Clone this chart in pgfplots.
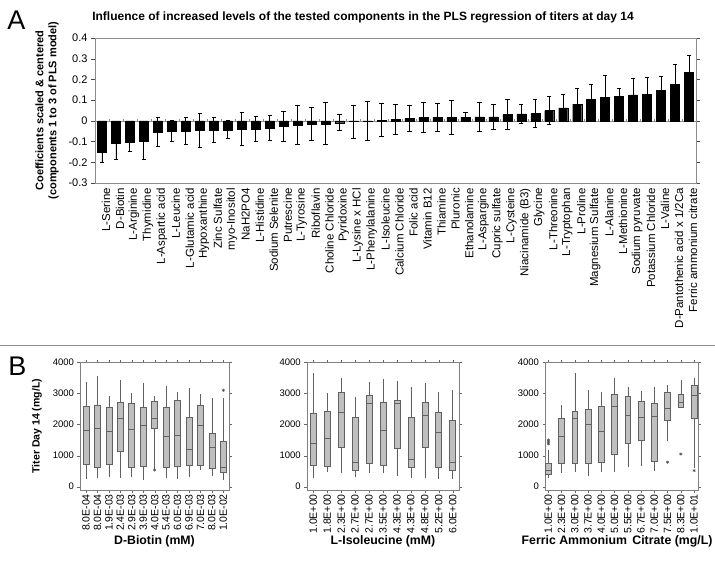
\documentclass[border=0pt]{standalone}
\usepackage{fontspec}
\setmainfont{Liberation Sans}
\usepackage{pgfplots}
\usepackage{pgfplotstable}
\pgfplotsset{compat=1.18}
\usepgfplotslibrary{statistics}

\pgfplotstableread{
x y e
0 -0.150 0.050
1 -0.106 0.080
2 -0.104 0.044
3 -0.098 0.088
4 -0.053 0.069
5 -0.049 0.052
6 -0.049 0.064
7 -0.046 0.080
8 -0.043 0.060
9 -0.043 0.043
10 -0.039 0.078
11 -0.039 0.062
12 -0.034 0.061
13 -0.027 0.071
14 -0.021 0.094
15 -0.015 0.080
16 -0.014 0.101
17 -0.009 0.039
18 -0.004 0.080
19 -0.002 0.094
20 0.004 0.078
21 0.008 0.072
22 0.011 0.063
23 0.016 0.071
24 0.016 0.068
25 0.016 0.081
26 0.018 0.021
27 0.019 0.068
28 0.019 0.060
29 0.030 0.072
30 0.034 0.045
31 0.035 0.067
32 0.050 0.069
33 0.063 0.064
34 0.081 0.077
35 0.105 0.069
36 0.114 0.105
37 0.118 0.039
38 0.126 0.080
39 0.129 0.081
40 0.148 0.065
41 0.177 0.095
42 0.234 0.081
}\coefdata

\pgfplotsset{
  bx/.style={draw=black!62, fill=black!25, line width=0.6pt},
  outl/.style={only marks, mark=asterisk, mark size=1.6pt, mark options={black!70, line width=0.5pt}},
  bpanel/.style={
    anchor=north west, scale only axis, height=127.7pt,
    boxplot/draw direction=y,
    ymin=-106, ymax=4000, ytick={0,1000,2000,3000,4000},
    /pgf/number format/1000 sep={}, /pgf/number format/assume math mode=true,
    axis line style={black!50}, tick style={black!60}, tick align=outside,
    major tick length=2.5pt, clip=false,
    x tick label style={rotate=90, anchor=east, font=\fontsize{10.5}{10.5}\selectfont, inner sep=1.5pt},
    y tick label style={font=\fontsize{9.5}{10}\selectfont},
    xlabel style={font=\bfseries\fontsize{12.3}{13}\selectfont, anchor=center},
  },
}
\newcommand{\bp}[6]{\addplot[bx, boxplot prepared={draw position=#1, lower whisker=#2, lower quartile=#3, median=#4, upper quartile=#5, upper whisker=#6, whisker extend=0}] coordinates {};}

\begin{document}
\begin{tikzpicture}
\useasboundingbox (0pt,0pt) rectangle (715pt,-560pt);

\node[font=\fontsize{27}{27}\selectfont] at (16.5pt,-20pt) {A};
\node[font=\fontsize{27}{27}\selectfont] at (17.5pt,-366pt) {B};
\node[font=\bfseries\fontsize{12}{13}\selectfont] at (363pt,-17pt) {Influence of increased levels of the tested components in the PLS regression of titers at day 14};
\draw[black!45, line width=0.8pt] (0pt,-345pt) -- (715pt,-345pt);

% zero line with category ticks
\begin{axis}[at={(95pt,-38pt)}, anchor=north west, scale only axis, width=601pt, height=145pt,
  xmin=-0.5, xmax=42.5, ymin=-0.3, ymax=0.4, axis y line=none, axis x line=middle,
  axis line style={black!45, -}, xtick={-0.5,0.5,...,42.5}, xticklabels={}, ytick=\empty,
  tick style={black!45}, major tick length=3pt]
\end{axis}

\begin{axis}[at={(95pt,-38pt)}, anchor=north west, scale only axis, width=601pt, height=145pt,
  xmin=-0.5, xmax=42.5, ymin=-0.3, ymax=0.4,
  ytick={-0.3,-0.2,-0.1,0,0.1,0.2,0.3,0.4},
  /pgf/number format/assume math mode=true,
  yticklabel style={font=\fontsize{11}{11}\selectfont, /pgf/number format/fixed, /pgf/number format/precision=1},
  xtick={0,...,42},
  xticklabels={L-Serine,D-Biotin,L-Arginine,Thymidine,L-Aspartic acid,L-Leucine,L-Glutamic acid,Hypoxanthine,Zinc Sulfate,myo-Inositol,NaH2PO4,L-Histidine,Sodium Selenite,Putrescine,L-Tyrosine,Riboflavin,Choline Chloride,Pyridoxine,L-Lysine x HCl,L-Phenylalanine,L-Isoleucine,Calcium Chloride,Folic acid,Vitamin B12,Thiamine,Pluronic,Ethanolamine,L-Aspargine,Cupric sulfate,L-Cysteine,Niacinamide (B3),Glycine,L-Threonine,L-Tryptophan,L-Proline,Magnesium Sulfate,L-Alanine,L-Methionine,Sodium pyruvate,Potassium Chloride,L-Valine,D-Pantothenic acid x 1/2Ca,Ferric ammonium citrate},
  xticklabel style={rotate=90, anchor=east, font=\fontsize{11.5}{11.5}\selectfont, inner sep=1pt, yshift=-4pt},
  xtick style={draw=none}, ytick style={black!70}, tick align=outside, major tick length=4pt,
  axis line style={black!45},
  ylabel={Coefficients scaled \& centered\\(components 1 to 3 of PLS model)},
  ylabel style={at={(axis description cs:-0.08,0.5)}, anchor=center, align=center, font=\bfseries\fontsize{11}{13}\selectfont},
  clip=false]
\addplot[ybar, bar width=9pt, fill=black, draw=black,
  error bars/.cd, y dir=both, y explicit,
  error bar style={black, line width=0.9pt},
  error mark options={rotate=90, black, mark size=2.2pt, line width=0.9pt}]
  table[x=x, y=y, y error=e]{\coefdata};
\end{axis}

% B1
\begin{axis}[bpanel, at={(80pt,-362.3pt)}, width=149pt, xmin=0.475, xmax=13.5,
  boxplot/box extend=0.52,
  xtick={1,...,13},
  xticklabels={8.0E-04,8.0E-04,1.9E-03,2.4E-03,2.9E-03,3.9E-03,4.0E-03,5.4E-03,6.0E-03,6.9E-03,7.0E-03,8.0E-03,1.0E-02},
  xlabel={D-Biotin (mM)}, xlabel style={at={(axis description cs:0.5,0)}, yshift=-51.5pt},
  ylabel={Titer Day 14 (mg/L)}, ylabel style={at={(axis description cs:-0.289,0.5)}, anchor=center, font=\bfseries\fontsize{10.5}{12}\selectfont}]
\bp{1}{247}{729}{1812}{2574}{3357}
\bp{2}{268}{622}{1877}{2606}{3571}
\bp{3}{322}{729}{1780}{2552}{2906}
\bp{4}{290}{1126}{2198}{2713}{3421}
\bp{5}{322}{622}{1855}{2681}{3003}
\bp{6}{214}{643}{1973}{2552}{3324}
\bp{7}{560}{1877}{2209}{2745}{2906}
\bp{8}{290}{622}{1619}{2552}{3249}
\bp{9}{247}{643}{1651}{2777}{3035}
\bp{10}{322}{686}{1212}{2220}{3164}
\bp{11}{536}{697}{1973}{2627}{2970}
\bp{12}{354}{579}{1265}{1716}{2863}
\bp{13}{214}{461}{622}{1458}{2850}
\addplot[outl] coordinates {(7,540) (13,3100)};
\end{axis}

% B2
\begin{axis}[bpanel, at={(306.7pt,-362.3pt)}, width=152.6pt, xmin=0.527, xmax=11.473,
  boxplot/box extend=0.43,
  xtick={1,...,11},
  xticklabels={1.0E+00,1.8E+00,2.3E+00,2.7E+00,2.7E+00,3.5E+00,4.3E+00,4.3E+00,4.8E+00,5.2E+00,6.0E+00},
  xlabel={L-Isoleucine (mM)}, xlabel style={at={(axis description cs:0.5,0)}, yshift=-51.5pt}]
\bp{1}{292}{703}{1384}{2357}{3654}
\bp{2}{486}{670}{1557}{2432}{3005}
\bp{3}{432}{1265}{2400}{3048}{3481}
\bp{4}{303}{519}{789}{2238}{2886}
\bp{5}{454}{746}{2670}{2951}{3373}
\bp{6}{454}{681}{1827}{2724}{3459}
\bp{7}{346}{1243}{2670}{2789}{3394}
\bp{8}{292}{638}{886}{2216}{3211}
\bp{9}{292}{1265}{2292}{2724}{3330}
\bp{10}{249}{616}{1762}{2400}{3059}
\bp{11}{249}{519}{789}{2140}{3113}
\end{axis}

% B3
\begin{axis}[bpanel, at={(545pt,-362.3pt)}, width=153.3pt, xmin=0.75, xmax=12.32,
  boxplot/box extend=0.45,
  xtick={1,...,12},
  xticklabels={1.0E+00,2.3E+00,3.0E+00,3.7E+00,4.0E+00,5.0E+00,5.5E+00,6.7E+00,7.0E+00,7.5E+00,8.3E+00,1.0E+01},
  xlabel={Ferric Ammonium\, Citrate (mg/L)}, xlabel style={at={(axis description cs:0.47,0)}, yshift=-51.5pt}]
\bp{1}{270}{400}{541}{757}{1167}
\bp{2}{454}{746}{1622}{2184}{2616}
\bp{3}{486}{757}{2184}{2432}{3654}
\bp{4}{346}{757}{2022}{2486}{3113}
\bp{5}{486}{789}{1784}{2594}{3048}
\bp{6}{486}{1049}{2594}{2973}{3481}
\bp{7}{627}{1405}{2303}{2897}{3211}
\bp{8}{670}{1492}{2238}{2757}{3081}
\bp{9}{519}{832}{2270}{2681}{3211}
\bp{10}{1459}{2130}{2519}{3027}{3275}
\bp{11}{2530}{2551}{2713}{2973}{3438}
\bp{12}{595}{2194}{2940}{3275}{3481}
\addplot[outl] coordinates {(1,1380) (1,1440) (1,1500) (10,789) (11,1049) (12,519)};
\end{axis}
\end{tikzpicture}
\end{document}
